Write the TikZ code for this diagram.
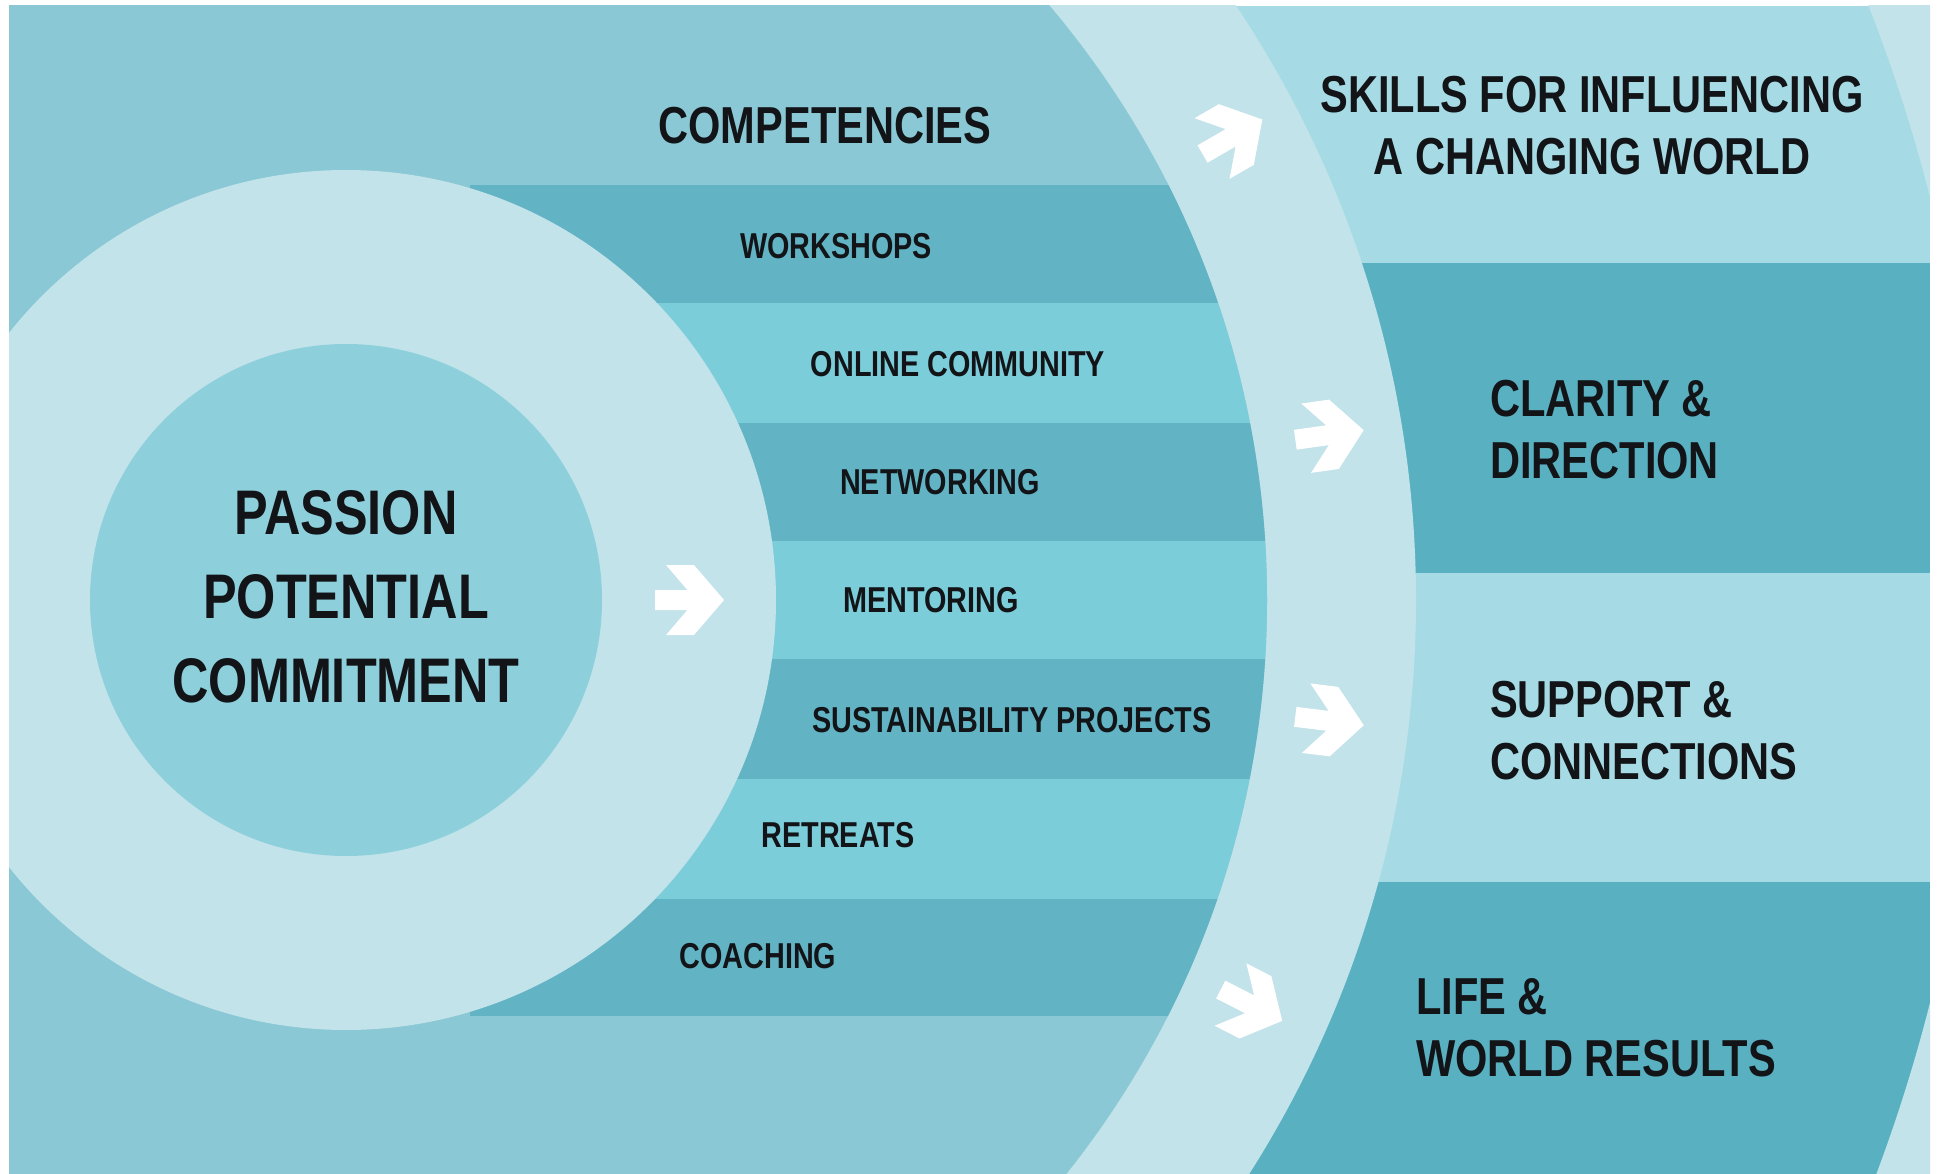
\documentclass[tikz,border=0pt]{standalone}
\usepackage{fontspec}
\newfontfamily\condsans[FakeStretch=0.8]{Liberation Sans}

\definecolor{bgteal}{HTML}{89C8D4}
\definecolor{ringlight}{HTML}{C3E3EA}
\definecolor{coredisk}{HTML}{8DD0DC}
\definecolor{stripedark}{HTML}{62B4C5}
\definecolor{stripelight}{HTML}{7CCDDA}
\definecolor{bandlight}{HTML}{A6DBE5}
\definecolor{banddark}{HTML}{58B0C1}
\definecolor{inkblack}{HTML}{121417}

\tikzset{
  lbl/.style={inner sep=0pt,text=inkblack,font=\condsans\bfseries\fontsize{36}{42}\selectfont},
  headlbl/.style={lbl,font=\condsans\bfseries\fontsize{52}{62}\selectfont},
  corelbl/.style={lbl,align=center,font=\condsans\bfseries\fontsize{63}{84}\selectfont},
  goallbl/.style={headlbl,align=left,anchor=west},
}

% white chevron arrow: x, y, angle
\newcommand{\whitearrow}[3]{%
  \fill[white,shift={(#1,#2)},rotate=#3]
    (-34,-10) -- (-1.6,-10) -- (-23,-35) -- (5,-35) -- (35,0)
    -- (5,35) -- (-23,35) -- (-1.6,10) -- (-34,10) -- cycle;}

\begin{document}
\begin{tikzpicture}[x=1pt,y=-1pt]

\useasboundingbox (0,0) rectangle (1939,1174);

\begin{scope}
\clip (9,6) rectangle (1930,1174);
\fill[bgteal] (9,6) rectangle (1930,1174);

% bands on the right
\fill[bandlight] (900,6) rectangle (1930,263);
\fill[banddark] (900,263) rectangle (1930,573);
\fill[bandlight] (900,573) rectangle (1930,882);
\fill[banddark] (900,882) rectangle (1930,1174);
\fill[ringlight,even odd rule] (346,600) circle [radius=1634pt]
    (0,0) rectangle (1939,1174);

% big ring
\fill[ringlight] (346,600) circle [radius=1070pt];
\fill[bgteal] (346,600) circle [radius=921pt];

% stripes
\begin{scope}
\clip (346,600) circle [radius=921pt];
\foreach \ytop/\ybot/\col in {185/303/stripedark,303/423/stripelight,
    423/541/stripedark,541/659/stripelight,659/779/stripedark,
    779/899/stripelight,899/1016/stripedark}
  \fill[\col] (470,\ytop) rectangle (1300,\ybot);
\end{scope}

% core
\fill[ringlight] (346,600) circle [radius=430pt];
\fill[coredisk] (346,600) circle [radius=256pt];
\end{scope}

\node[corelbl] (core) at (346,597) {PASSION\\POTENTIAL\\COMMITMENT};

\node[headlbl] (comp) at (825,126) {COMPETENCIES};
\node[lbl] (work) at (836,246) {WORKSHOPS};
\node[lbl] (online) at (958,364) {ONLINE COMMUNITY};
\node[lbl] (net) at (940,482) {NETWORKING};
\node[lbl] (ment) at (931,600) {MENTORING};
\node[lbl] (sust) at (1012,720) {SUSTAINABILITY PROJECTS};
\node[lbl] (retr) at (838,835) {RETREATS};
\node[lbl] (coach) at (758,956) {COACHING};

\node[headlbl,align=center] (skills) at (1592,126) {SKILLS FOR INFLUENCING\\A CHANGING WORLD};
\node[goallbl] (clarity) at (1490,430) {CLARITY \&\\DIRECTION};
\node[goallbl] (support) at (1490,731) {SUPPORT \&\\CONNECTIONS};
\node[goallbl] (life) at (1416,1028) {LIFE \&\\WORLD RESULTS};

\whitearrow{689}{600}{0}
\whitearrow{1232}{137}{30}
\whitearrow{1329}{435}{8}
\whitearrow{1329}{721}{-7}
\whitearrow{1251}{1005}{-27}

\end{tikzpicture}
\end{document}
